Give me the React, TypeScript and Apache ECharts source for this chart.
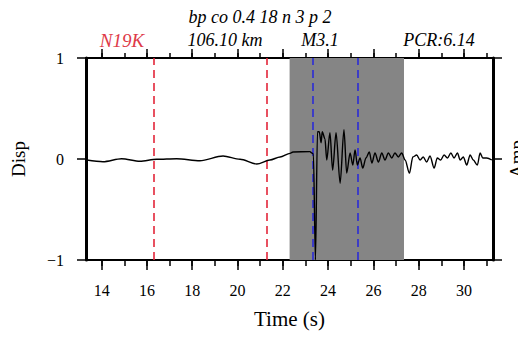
import React, { useEffect, useRef } from "react";
import * as echarts from "echarts";

const TIME = [
  13.34, 14.06, 14.88, 15.69, 16.43, 17.31, 18.34, 19.36, 20.11, 20.85, 21.43, 21.88, 22.32, 22.45, 23.2, 23.28, 23.35,
  23.44, 23.53, 23.61, 23.69, 23.74, 23.86, 23.94, 24.08, 24.2, 24.35, 24.53, 24.7, 24.82, 24.97, 25.09, 25.19, 25.29,
  25.41, 25.53, 25.67, 25.82, 25.93, 26.07, 26.22, 26.37, 26.51, 26.66, 26.81, 26.95, 27.1, 27.25, 27.4, 27.59, 27.74,
  27.91, 28.06, 28.2, 28.35, 28.5, 28.68, 28.82, 28.97, 29.12, 29.27, 29.42, 29.56, 29.71, 29.83, 29.97, 30.12, 30.27,
  30.41, 30.59, 30.71, 30.83, 31.0, 31.23,
];
const DISP = [
  -0.01, -0.027, 0.003, -0.023, -0.003, 0.003, -0.017, 0.03, -0.003, -0.05, -0.01, 0.02, 0.056, 0.07, 0.073, 0.06, 0.05,
  -1.0, 0.27, 0.27, 0.16, 0.27, 0.2, -0.01, 0.26, -0.11, 0.26, -0.24, 0.29, -0.14, 0.06, -0.06, 0.09, -0.06,
  0.01, -0.09, 0.01, 0.07, -0.04, 0.06, -0.03, 0.06, -0.01, 0.06, 0.01, 0.06, 0.02, 0.06, -0.01, -0.14, 0.02,
  0.04, -0.01, 0.02, -0.03, 0.03, -0.09, 0.01, -0.01, 0.04, 0.01, 0.06, 0.01, 0.06, -0.01, 0.02, -0.06, 0.04,
  -0.01, -0.06, 0.06, 0.01, 0.01, -0.01,
];

const X_MIN = 13.31;
const X_MAX = 31.28;
const MAJOR_TICKS = [14, 16, 18, 20, 22, 24, 26, 28, 30];
const MINOR_TICKS = [14, 15, 16, 17, 18, 19, 20, 21, 22, 23, 24, 25, 26, 27, 28, 29, 30, 31];
const RED_PICKS = [16.28, 21.3];
const BLUE_PICKS = [23.34, 25.33];
const WINDOW = [22.3, 27.35];

const SERIF = "Liberation Serif";

export default function App() {
  const ref = useRef<HTMLDivElement>(null);
  useEffect(() => {
    if (!ref.current) return;
    const chart = echarts.init(ref.current, null, { renderer: "svg" });
    const xBase = (pos: "top" | "bottom", major: boolean, showLine: boolean, len: number) => ({
      type: "value",
      position: pos,
      min: X_MIN,
      max: X_MAX,
      axisLine: { show: showLine, onZero: false, lineStyle: { color: "#000", width: 2 } },
      axisTick: {
        show: true,
        inside: false,
        length: len,
        customValues: major ? MAJOR_TICKS : MINOR_TICKS,
        lineStyle: { color: "#000", width: 1.5 },
      },
      axisLabel: { show: false },
      splitLine: { show: false },
    });
    const bottomMajor: any = xBase("bottom", true, true, 10);
    bottomMajor.axisLabel = {
      show: true,
      customValues: MAJOR_TICKS,
      margin: 22,
      fontSize: 16,
      fontFamily: SERIF,
      color: "#000",
    };
    bottomMajor.name = "Time (s)";
    bottomMajor.nameLocation = "middle";
    bottomMajor.nameGap = 48;
    bottomMajor.nameTextStyle = { fontSize: 21, fontFamily: SERIF, color: "#000" };

    const pts = TIME.map((t, i) => [t, DISP[i]]);

    const option: any = {
      animation: false,
      textStyle: { fontFamily: SERIF },
      grid: { left: 86, right: 25, top: 58, bottom: 78, outerBoundsMode: "none", containLabel: false },
      xAxis: [
        bottomMajor,
        xBase("bottom", false, false, 6),
        xBase("top", true, true, 9),
        xBase("top", false, false, 5),
      ],
      yAxis: [
        {
          type: "value",
          position: "left",
          min: -1,
          max: 1,
          interval: 1,
          axisLine: { show: true, onZero: false, lineStyle: { color: "#000", width: 3 } },
          axisTick: { show: true, inside: false, length: 9, lineStyle: { color: "#000", width: 1.5 } },
          axisLabel: {
            margin: 22,
            fontSize: 16,
            fontFamily: SERIF,
            color: "#000",
            formatter: (v: number) => (v < 0 ? "\u2212" + Math.abs(v) : String(v)),
          },
          splitLine: { show: false },
          name: "Disp",
          nameLocation: "middle",
          nameRotate: 90,
          nameGap: 58,
          nameTextStyle: { fontSize: 19, fontFamily: SERIF, color: "#000" },
        },
        {
          type: "value",
          position: "right",
          min: -1,
          max: 1,
          interval: 1,
          axisLine: { show: true, onZero: false, lineStyle: { color: "#000", width: 3 } },
          axisTick: { show: true, inside: false, length: 9, lineStyle: { color: "#000", width: 1.5 } },
          axisLabel: { show: false },
          splitLine: { show: false },
          name: "Amp",
          nameLocation: "middle",
          nameRotate: 90,
          nameGap: 14,
          nameTextStyle: { fontSize: 19, fontFamily: SERIF, color: "#000" },
        },
      ],
      series: [
        {
          type: "line",
          z: 1,
          silent: true,
          data: [[X_MIN, 0]],
          symbol: "none",
          lineStyle: { opacity: 0 },
          markArea: {
            silent: true,
            itemStyle: { color: "#858585", opacity: 1 },
            data: [[{ xAxis: WINDOW[0] }, { xAxis: WINDOW[1] }]],
          },
        },
        {
          type: "line",
          z: 2,
          silent: true,
          data: [[X_MIN, 0]],
          symbol: "none",
          lineStyle: { opacity: 0 },
          markLine: {
            silent: true,
            symbol: "none",
            label: { show: false },
            data: [
              ...RED_PICKS.map((v) => ({ xAxis: v, lineStyle: { color: "#e3263a", width: 1.6, type: [8, 5] } })),
              ...BLUE_PICKS.map((v) => ({ xAxis: v, lineStyle: { color: "#2b2bd6", width: 1.6, type: [8, 5] } })),
            ],
          },
        },
        {
          type: "line",
          z: 5,
          data: pts,
          symbol: "none",
          smooth: 0.3,
          smoothMonotone: "x",
          lineStyle: { color: "#000", width: 1.4 },
        },
      ],
      graphic: [
        { type: "text", x: 260, y: 17, style: { text: "bp co 0.4 18 n 3 p 2", font: `italic 18px "${SERIF}"`, fill: "#000", textAlign: "center", textVerticalAlign: "middle" } },
        { type: "text", x: 122, y: 40, style: { text: "N19K", font: `italic 19px "${SERIF}"`, fill: "#de3a48", textAlign: "center", textVerticalAlign: "middle" } },
        { type: "text", x: 225, y: 40, style: { text: "106.10 km", font: `italic 18px "${SERIF}"`, fill: "#000", textAlign: "center", textVerticalAlign: "middle" } },
        { type: "text", x: 320, y: 40, style: { text: "M3.1", font: `italic 18px "${SERIF}"`, fill: "#000", textAlign: "center", textVerticalAlign: "middle" } },
        { type: "text", x: 439, y: 40, style: { text: "PCR:6.14", font: `italic 18px "${SERIF}"`, fill: "#000", textAlign: "center", textVerticalAlign: "middle" } },
      ],
    };
    chart.setOption(option);
    return () => chart.dispose();
  }, []);
  return <div ref={ref} style={{ position: "fixed", left: 0, top: 0, width: 518, height: 338, background: "#fff" }} />;
}
